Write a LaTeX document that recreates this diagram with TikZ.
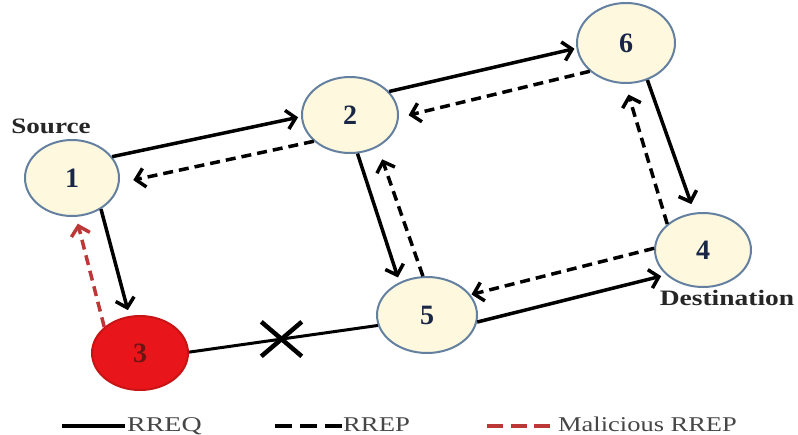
\documentclass[tikz,border=0pt]{standalone}
\usepackage{fontspec}
\usepackage{graphicx}
\setmainfont{Liberation Serif}
\usetikzlibrary{arrows.meta,shapes.geometric,shapes.misc}
\definecolor{nodefill}{RGB}{253,248,222}
\definecolor{nodeline}{RGB}{100,128,160}
\definecolor{numcol}{RGB}{25,38,70}
\definecolor{malred}{RGB}{232,22,26}
\definecolor{malborder}{RGB}{200,20,20}
\definecolor{malnum}{RGB}{110,20,20}
\definecolor{malline}{RGB}{190,55,55}
\definecolor{legtext}{RGB}{70,70,70}
\tikzset{
  netnode/.style={ellipse, draw=nodeline, line width=2pt, fill=nodefill, inner sep=0pt,
    font=\fontsize{28}{28}\selectfont\bfseries, text=numcol},
  rreq/.style={line width=3.5pt, -{Straight Barb[length=9pt,width=19pt]}},
  rrep/.style={rreq, dash pattern=on 10pt off 6pt},
  mal/.style={rrep, draw=malline},
  lbl/.style={font=\fontsize{22}{22}\selectfont\bfseries, text=black!85, inner sep=0pt},
  legendtext/.style={font=\fontsize{21}{21}\selectfont, text=legtext, anchor=base west, inner sep=0pt},
}
\begin{document}
\begin{tikzpicture}[x=1pt,y=-1pt]
\fill[white] (0,0) rectangle (798,434);
\useasboundingbox (0,0) rectangle (798,434);

% nodes
\node[netnode, minimum width=94pt, minimum height=76pt] (n1) at (72,178) {1};
\node[netnode, minimum width=96pt, minimum height=76pt] (n2) at (350,115) {2};
\node[netnode, minimum width=98pt, minimum height=80pt] (n6) at (626,43) {6};
\node[netnode, minimum width=96pt, minimum height=74pt] (n4) at (703,250) {4};
\node[netnode, minimum width=100pt, minimum height=76pt] (n5) at (427,315) {5};
\node[netnode, minimum width=96pt, minimum height=74pt, fill=malred, draw=malborder, text=malnum] (n3) at (140,353) {3};

% labels
\node[lbl] (src) at (51,126) {\scalebox{1.23}[1]{Source}};
\node[lbl] (dst) at (727,298) {\scalebox{1.25}[1]{Destination}};

% RREQ (solid)
\draw[rreq, shorten >=3pt] (n1.28) -- (n2.182);
\draw[rreq, shorten >=2pt] (n2.31) -- (n6.186);
\draw[rreq, shorten >=9pt] (n6.-60) -- (n4.103);
\draw[rreq, shorten >=5pt] (n2.-79) -- (n5.130);
\draw[rreq, shorten >=5pt] (n5.-8) -- (n4.214);
\draw[rreq, shorten >=6pt] (n1.-47) -- (n3.106);

% RREP (dashed)
\draw[rrep, shorten >=14pt] (n2.216) -- (n1.-6);
\draw[rrep, shorten >=10pt] (n6.218) -- (n2.-3);
\draw[rrep, shorten >=11pt] (n4.144) -- (n6.-91);
\draw[rrep, shorten >=13pt] (n5.96) -- (n2.-49);
\draw[rrep, shorten >=1pt] (n4.178) -- (n5.25);

% malicious RREP
\draw[mal, shorten >=7pt] (n3.144) -- (n1.-84);

% broken link
\draw[line width=3pt] (n3.1) -- node[pos=0.49, cross out, draw, line width=4.5pt, minimum width=36pt, minimum height=30pt, inner sep=0pt] (xmark) {} (n5.192);

% legend
\coordinate (la1) at (62,426); \coordinate (lb1) at (125,426);
\draw[line width=4pt] (la1) -- (lb1);
\node[legendtext] (t1) at (127,431) {\scalebox{1.33}[1]{RREQ}};
\coordinate (la2) at (275,426); \coordinate (lb2) at (342,426);
\draw[line width=4pt, dash pattern=on 17pt off 8pt] (la2) -- (lb2);
\node[legendtext] (t2) at (343,431) {\scalebox{1.27}[1]{RREP}};
\coordinate (la3) at (487,426); \coordinate (lb3) at (550,426);
\draw[line width=4pt, draw=malline, dash pattern=on 16pt off 7.5pt] (la3) -- (lb3);
\node[legendtext] (t3) at (558,431) {\scalebox{1.26}[1]{Malicious RREP}};
\end{tikzpicture}
\end{document}
